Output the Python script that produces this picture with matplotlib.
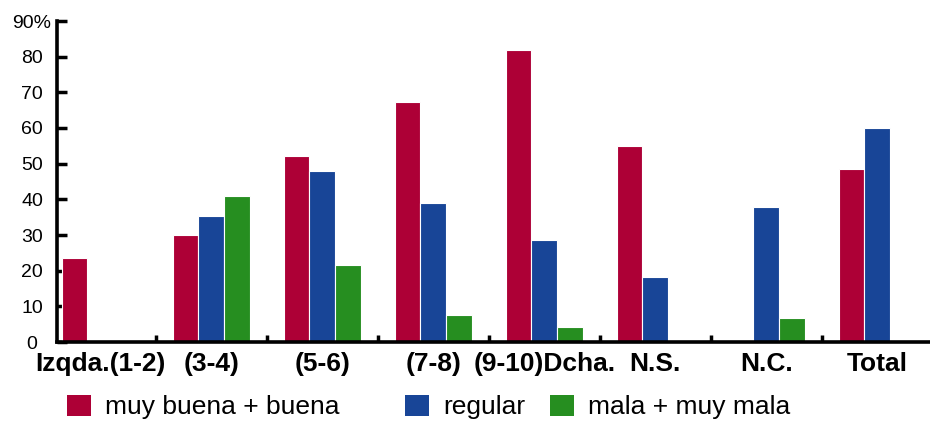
import matplotlib
matplotlib.use("Agg")
import matplotlib.pyplot as plt
from matplotlib.patches import Patch
import matplotlib.transforms as mtransforms
import numpy as np

plt.rcParams['font.family'] = ['Liberation Sans', 'DejaVu Sans']

categories = ["Izqda.(1-2)", "(3-4)", "(5-6)", "(7-8)", "(9-10)Dcha.", "N.S.", "N.C.", "Total"]
series_names = ["muy buena + buena", "regular", "mala + muy mala"]
buena = [23.5, 30.0, 52.1, 67.2, 81.8, 55.0, 0.0, 48.4]
regular = [0.0, 35.3, 48.0, 39.0, 28.5, 18.1, 37.8, 59.9]
mala = [0.0, 41.0, 21.6, 7.7, 4.2, 0.0, 6.7, 0.0]
y_ticks = [0, 10, 20, 30, 40, 50, 60, 70, 80, 90]
y_labels = ["0", "10", "20", "30", "40", "50", "60", "70", "80", "90%"]

colors = ["#AD0036", "#184597", "#268E20"]

fig = plt.figure(figsize=(9.3, 4.23), dpi=100)
ax = fig.add_axes([57/930, 81/423, 873/930, 321/423])

x = np.arange(len(categories))
w = 0.232
for k, (vals, c) in enumerate(zip([buena, regular, mala], colors)):
    v = np.array(vals)
    mask = v > 0
    ax.bar(x[mask] + (k - 1) * w, v[mask], width=w, color=c,
           edgecolor="white", linewidth=0.8, zorder=2)

ax.set_xlim(-0.39, 7.475)
ax.set_ylim(0, 90)
ax.set_yticks(y_ticks)
ax.set_yticklabels(y_labels, fontsize=14)
for lab in ax.get_yticklabels():
    lab.set_horizontalalignment("center")
ax.set_xticks(x)
ax.set_xticklabels(categories, fontsize=19, fontweight="bold")
shift = mtransforms.ScaledTranslation(6/100, 0, fig.dpi_scale_trans)
for lab in ax.get_xticklabels():
    lab.set_transform(lab.get_transform() + shift)
ax.tick_params(axis="x", which="major", length=0, pad=7)
ax.set_xticks(x[:-1] + 0.5, minor=True)
ax.tick_params(axis="x", which="minor", direction="in", length=5, width=2.5)
ax.tick_params(axis="y", direction="in", length=7.5, width=2.5, pad=18)
for s in ["top", "right"]:
    ax.spines[s].set_visible(False)
for s in ["left", "bottom"]:
    ax.spines[s].set_linewidth(2.6)

legend_x = [67, 405, 550]
for h_color, name, lx in zip(colors, series_names, legend_x):
    leg = fig.legend([Patch(facecolor=h_color, edgecolor="none")], [name],
                     loc="center left", bbox_to_anchor=(lx/930, 1 - 407/423),
                     frameon=False, fontsize=19, handlelength=0.91, handleheight=0.88,
                     handletextpad=0.53, borderpad=0, borderaxespad=0)

fig.savefig("out.png", dpi=100)
